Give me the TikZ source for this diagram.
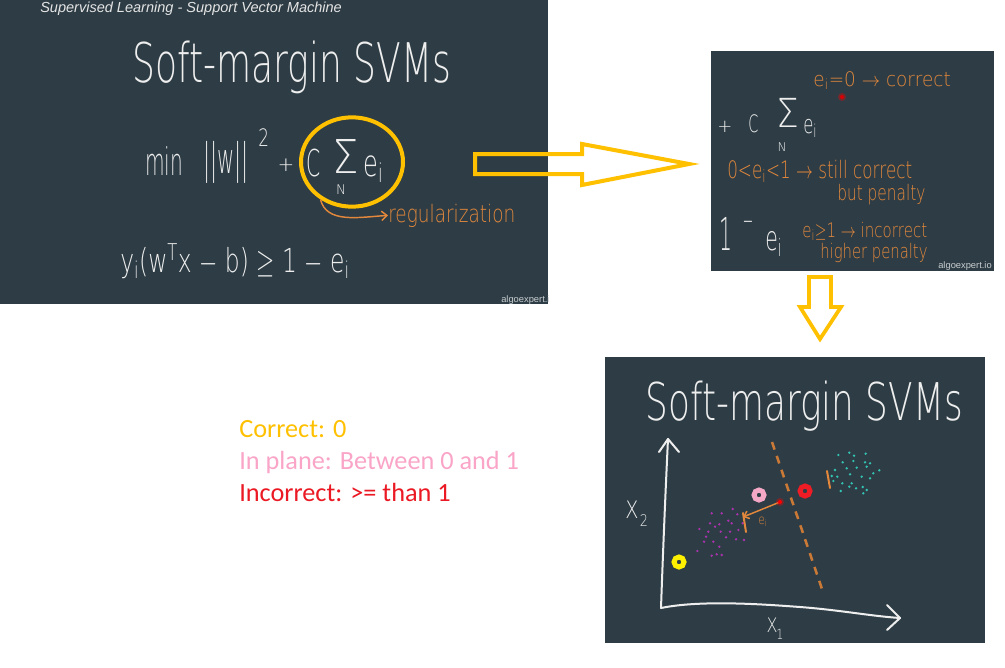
\RequirePackage{fix-cm}
\documentclass[tikz,border=0pt]{standalone}
\usepackage{fontspec}
\usepackage{graphicx}
\setmainfont{Carlito}
\newfontfamily\hand{DejaVu Sans ExtraLight}
\newfontfamily\arialf{Liberation Sans}
\usetikzlibrary{arrows.meta,shapes.geometric}
\definecolor{board}{RGB}{46,61,69}
\definecolor{chalk}{RGB}{238,238,238}
\definecolor{subt}{RGB}{228,228,228}
\definecolor{aegray}{RGB}{200,205,208}
\definecolor{ora}{RGB}{226,135,60}
\definecolor{gold}{RGB}{255,192,0}
\definecolor{pinkt}{RGB}{250,165,200}
\definecolor{redt}{RGB}{235,25,35}
\definecolor{yel}{RGB}{255,240,0}
\definecolor{pinkr}{RGB}{245,168,198}
\definecolor{redr}{RGB}{238,28,36}
\definecolor{purp}{RGB}{170,50,175}
\definecolor{teal}{RGB}{50,195,180}
\newcommand\hw[3]{\scalebox{#2}[1]{\hand\fontsize{#1}{#1}\selectfont #3}}
\tikzset{
  hwt/.style={inner sep=0, text=chalk},
  ann/.style={inner sep=0, text=ora},
  legend/.style={anchor=base west, inner sep=0, font=\fontsize{19.7}{24}\selectfont},
  ring/.style={circle, draw=#1, line width=3.75pt, minimum size=7.5pt, inner sep=0},
  blockarrow/.style={draw=gold, line width=3pt, line join=miter},
  chalkline/.style={draw=chalk, line width=1.5pt, line cap=round, line join=round}
}
\begin{document}
\begin{tikzpicture}[x=0.75pt,y=-0.75pt]
\useasboundingbox (0,0) rectangle (1005,667);
\fill[white] (0,0) rectangle (1005,667);
% panels
\fill[board] (0,0) rectangle (548,304);
\fill[board] (711,51) rectangle (994,271);
\fill[board] (605,357) rectangle (985,643);

% ---------- panel 1 ----------
\node[anchor=base west, inner sep=0, text=subt] (sup) at (40,12.5)
  {\arialf\itshape\fontsize{10.9}{12}\selectfont Supervised Learning - Support Vector Machine};
\node[hwt, anchor=base west] (t1) at (132,82) {\hw{41}{0.66}{Soft-margin SVMs}};
\node[hwt, anchor=base west] (min) at (145,175) {\hw{28.5}{0.53}{min}};
\node[hwt, anchor=base west] (norm) at (203,173) {\hw{31.5}{0.5}{||w||}};
\node[hwt, anchor=base west] (sq) at (258,146) {\hw{18}{0.7}{2}};
\node[hwt] (plus1) at (286,165) {\hw{15}{1}{+}};
\node[hwt, anchor=base west] (c1) at (306,176) {\hw{27.75}{0.55}{C}};
\node[hwt] (sum1) at (346,156) {\hw{35}{0.9}{Σ}};
\node[hwt] (n1) at (341,190) {\hw{10}{1}{N}};
\node[hwt, anchor=base west] (e1) at (363,176) {\hw{27.75}{0.65}{e\textsubscript{i}}};
\node[draw=gold, line width=3pt, ellipse, minimum width=76.5pt, minimum height=67pt, inner sep=0] (hl) at (352,162) {};
\node[ann, anchor=base west] (reg) at (388,222) {\hw{18}{0.77}{regularization}};
\draw[ora, line width=1.1pt, -{Straight Barb[length=4pt,width=7pt]}] (hl.230) .. controls +(6,24) and +(-30,2) .. (reg.west);
\node[hwt, anchor=base west] (cons) at (120,272) {\hw{24.75}{0.71}{y\textsubscript{i}(w\textsuperscript{T}x $-$ b) $\geq$ 1 $-$ e\textsubscript{i}}};
\begin{scope}
\clip (0,0) rectangle (548,304);
\node[anchor=base west, inner sep=0, text=aegray] (ae1) at (501,302) {\arialf\fontsize{7}{8}\selectfont algoexpert.io};
\end{scope}

% ---------- panel 2 ----------
\node[ann, anchor=base west] (p2a) at (813,86) {\hw{15}{0.92}{e\textsubscript{i}=0 $\rightarrow$ correct}};
\fill[red, opacity=0.35] (842,97) circle (4);
\fill[red!85!black] (842,97) circle (2);
\node[hwt] (plus2) at (725,127) {\hw{13.5}{1}{+}};
\node[hwt, anchor=base west] (c2) at (748,132) {\hw{18}{0.6}{C}};
\node[hwt] (sum2) at (788,113) {\hw{30}{0.9}{Σ}};
\node[hwt] (n2) at (782,147) {\hw{9}{1}{N}};
\node[hwt, anchor=base west] (e2) at (803,133) {\hw{19}{0.65}{e\textsubscript{i}}};
\node[ann, anchor=base west] (p2b) at (727,178) {\hw{18}{0.7}{0<e\textsubscript{i}<1 $\rightarrow$ still correct}};
\node[ann, anchor=base west] (p2c) at (837,200) {\hw{16}{0.72}{but penalty}};
\node[hwt, anchor=base west] (one2) at (719,250) {\hw{34}{0.45}{1}};
\node[hwt] (minus2) at (748,222) {\hw{20}{0.5}{$-$}};
\node[hwt, anchor=base west] (e3) at (765,250) {\hw{25.5}{0.6}{e\textsubscript{i}}};
\node[ann, anchor=base west] (p2e) at (802,237) {\hw{15}{0.75}{e\textsubscript{i}$\geq$1 $\rightarrow$ incorrect}};
\node[ann, anchor=base west] (p2f) at (820,258) {\hw{15}{0.74}{higher penalty}};
\node[anchor=base east, inner sep=0, text=aegray] (ae2) at (992,268) {\arialf\fontsize{7}{8}\selectfont algoexpert.io};

% ---------- panel 3 ----------
\node[hwt, anchor=base west] (t3) at (645,420) {\hw{39}{0.69}{Soft-margin SVMs}};
\coordinate (o) at (661,608);
\coordinate (ytip) at (668,439);
\coordinate (xtip) at (900,618);
\draw[chalkline] (o) .. controls (663,550) and (666,480) .. (ytip);
\draw[chalkline] (659,452) -- (ytip) -- (679,452);
\draw[chalkline] (o) .. controls (700,600) and (760,604) .. (800,607) .. controls (840,610) and (870,616) .. (xtip);
\draw[chalkline] (887,605) -- (xtip) -- (887,630);
\node[hwt] (x2) at (632,510) {\hw{18}{0.8}{X}};
\node[hwt] (x2s) at (644,521) {\hw{12}{0.8}{2}};
\node[hwt] (x1) at (772,625) {\hw{15}{0.8}{X}};
\node[hwt] (x1s) at (780,634) {\hw{10.5}{0.8}{1}};
% dashed separating line
\coordinate (d1) at (772,442);
\coordinate (d2) at (823,592);
\draw[ora!90!black, line width=1.9pt, dash pattern=on 6pt off 5pt] (d1) -- (d2);
% clusters
\foreach \p in {(711.7,513.3),(721.7,513.3),(732.7,509),(728.3,520.7),(737.3,514.3),(710,523.3),(719.3,524.3),(715,526.7),(699.3,529),(708.3,531.7),(720.7,531.7),(730,531.7),(738.3,530),(706,536.7),(726,537.3),(736,539.3),(744,540),(713.3,541.7),(719.3,546.7),(704,541.7),(721.7,555),(716.7,554.3),(697.3,551),(711.7,555.7),(742.7,523.3),(731.7,523.3)}
  \fill[purp] \p circle (1.3);
\foreach \p in {(838.3,455),(849.3,452.7),(854,455.7),(865.7,453.7),(842.7,462.3),(853.3,461),(865,462.3),(870,463.3),(835,470),(846.7,468.3),(856.7,467.7),(866.7,466.7),(879.3,470.3),(837.3,476.7),(850,474.3),(861.7,476.7),(870,478.3),(833.3,481),(842.3,483.3),(851.7,483.3),(856,488.3),(862.7,487),(866.7,490),(863.3,493.3),(840.7,491),(849.3,486.7),(831.7,476),(873.3,473.3)}
  \fill[teal] \p circle (1.3);
% margin ticks and e_i arrow
\coordinate (tk1a) at (743,513);
\coordinate (tk1b) at (746,532);
\coordinate (tk2a) at (827,471);
\coordinate (tk2b) at (830,488);
\draw[ora, line width=1.5pt, line cap=round] (tk1a) -- (tk1b);
\draw[ora, line width=1.5pt, line cap=round] (tk2a) -- (tk2b);
\coordinate (glow) at (780,502);
\coordinate (tip) at (743,517);
\draw[ora, line width=1.1pt, -{Straight Barb[length=3.5pt,width=6pt]}] (glow) -- (tip);
\fill[red, opacity=0.35] (glow) circle (4);
\fill[red] (glow) circle (2);
\node[ann] (eil) at (763,522) {\hw{10}{0.8}{e\textsubscript{i}}};
% rings
\node[ring=yel] (ry) at (679,562) {};
\node[ring=pinkr] (rp) at (759,495) {};
\node[ring=redr] (rr) at (805,491) {};

% ---------- block arrows ----------
\draw[blockarrow] (475,154) -- (582,154) -- (582,144) -- (689,164) -- (582,185) -- (582,174) -- (475,174) -- cycle;
\draw[blockarrow, line width=2.8pt] (809,277) -- (831,277) -- (831,307) -- (841,307) -- (820,339) -- (800,307) -- (809,307) -- cycle;

% ---------- legend ----------
\node[legend, text=gold] (l1) at (239,437) {Correct: 0};
\node[legend, text=pinkt] (l2) at (239,469) {In plane: Between 0 and 1};
\node[legend, text=redt] (l3) at (239,501.5) {Incorrect: >= than 1};
\end{tikzpicture}
\end{document}
